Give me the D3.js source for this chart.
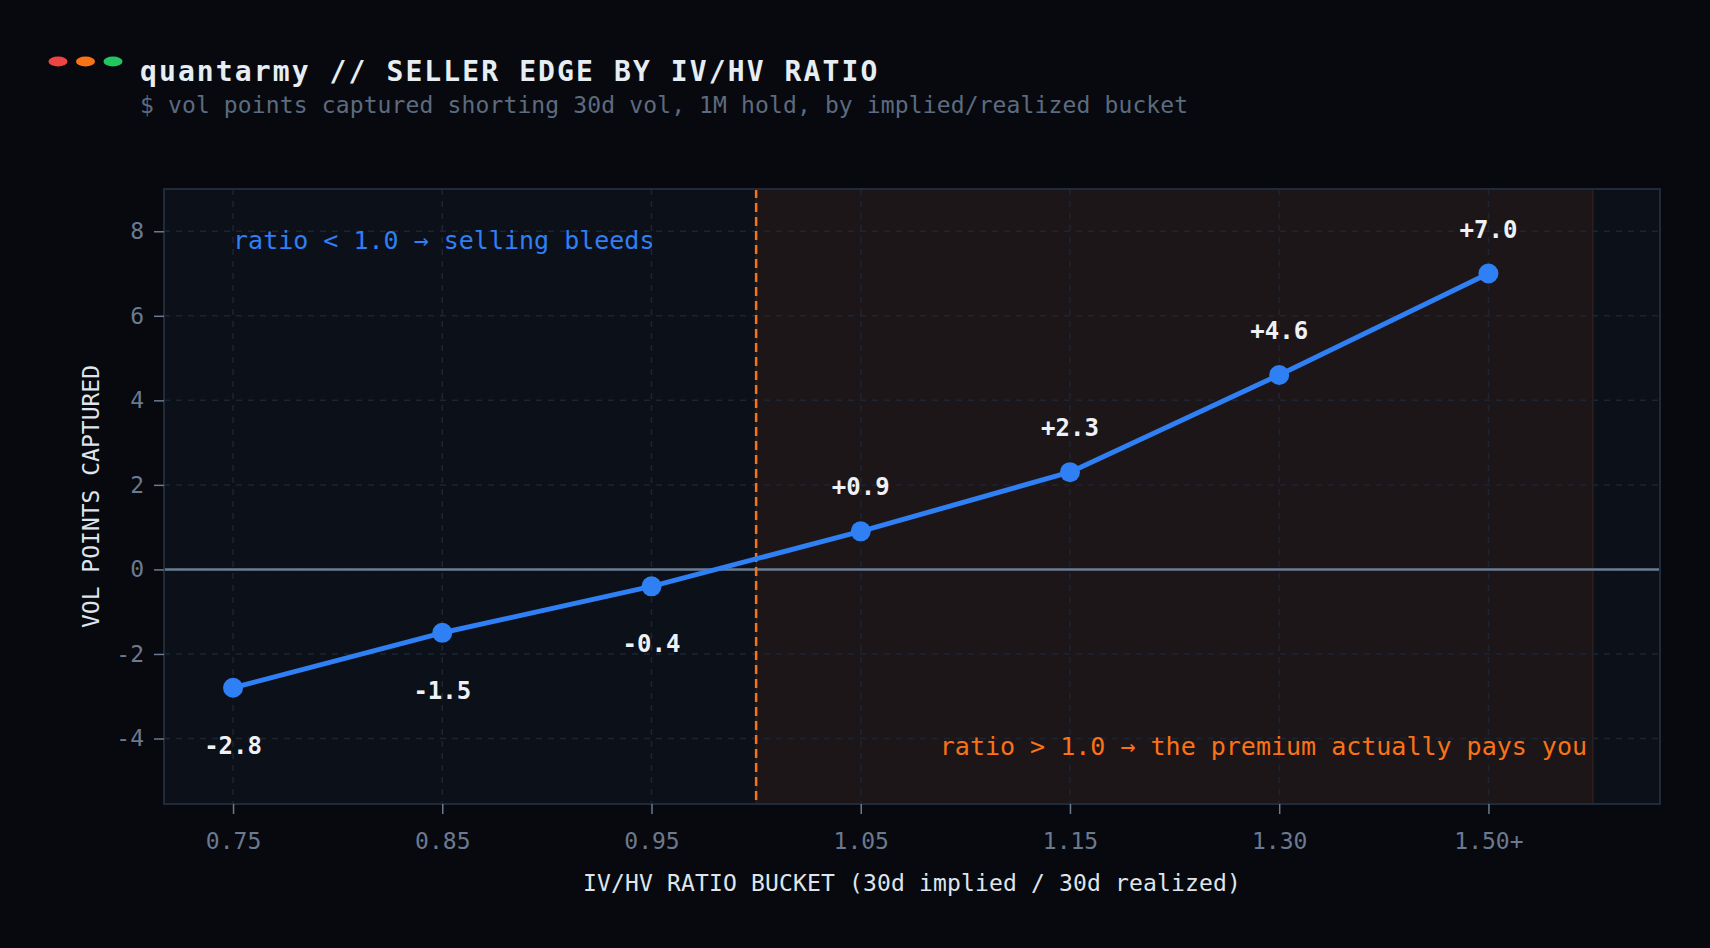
<!DOCTYPE html>
<html>
<head>
<meta charset="utf-8">
<script src="https://cdn.jsdelivr.net/npm/d3@7"></script>
<style>
  html, body { margin: 0; padding: 0; background: #07090e; }
  svg { display: block; }
  text { font-family: "DejaVu Sans Mono", "Liberation Mono", monospace; }
</style>
</head>
<body>
<div id="chart"></div>
<script>
// data
const buckets = ["0.75", "0.85", "0.95", "1.05", "1.15", "1.30", "1.50+"];
const edge = [-2.8, -1.5, -0.4, 0.9, 2.3, 4.6, 7.0];
const yTicks = [-4, -2, 0, 2, 4, 6, 8];
const breakEven = 2.5; // between 0.95 and 1.05 buckets

const width = 1710, height = 948;
const plot = { left: 164, right: 1660, top: 189, bottom: 804 };

const svg = d3.select("#chart").append("svg")
    .attr("width", width)
    .attr("height", height);

svg.append("rect").attr("width", width).attr("height", height).attr("fill", "#07090e");

// header: window dots + title
const dots = [["#ef4444", 58], ["#f97316", 85.5], ["#22c55e", 113]];
svg.selectAll("ellipse.dot")
  .data(dots)
  .join("ellipse")
    .attr("cx", d => d[1])
    .attr("cy", 61.5)
    .attr("rx", 9.5)
    .attr("ry", 5)
    .attr("fill", d => d[0]);

svg.append("text")
    .attr("x", 140).attr("y", 81)
    .attr("fill", "#e6edf3")
    .attr("font-size", 28)
    .attr("font-weight", "bold")
    .attr("letter-spacing", 2.1)
    .text("quantarmy // SELLER EDGE BY IV/HV RATIO");

svg.append("text")
    .attr("x", 140).attr("y", 113)
    .attr("fill", "#5d6b80")
    .attr("font-size", 23)
    .attr("letter-spacing", 0.13)
    .text("$ vol points captured shorting 30d vol, 1M hold, by implied/realized bucket");

// scales
const x = d3.scaleLinear().domain([-0.33, 6.82]).range([plot.left, plot.right]);
const y = d3.scaleLinear().domain([-5.55, 9.0]).range([plot.bottom, plot.top]);

// plot background
svg.append("rect")
    .attr("x", plot.left).attr("y", plot.top)
    .attr("width", plot.right - plot.left)
    .attr("height", plot.bottom - plot.top)
    .attr("fill", "#0c1019");

// shaded "premium pays" zone
svg.append("rect")
    .attr("x", x(breakEven)).attr("y", plot.top)
    .attr("width", x(6.5) - x(breakEven))
    .attr("height", plot.bottom - plot.top)
    .attr("fill", "#f97316")
    .attr("fill-opacity", 0.07)
    .attr("stroke", "#f97316")
    .attr("stroke-opacity", 0.12)
    .attr("stroke-width", 1.5);

// grid
const grid = svg.append("g");
grid.selectAll("line.gy")
  .data(yTicks)
  .join("line")
    .attr("x1", plot.left).attr("x2", plot.right)
    .attr("y1", d => y(d)).attr("y2", d => y(d))
    .attr("stroke", "#1d2533")
    .attr("stroke-width", 1.5)
    .attr("stroke-dasharray", "6,6");
grid.selectAll("line.gx")
  .data(d3.range(buckets.length))
  .join("line")
    .attr("x1", d => x(d)).attr("x2", d => x(d))
    .attr("y1", plot.top).attr("y2", plot.bottom)
    .attr("stroke", "#1d2533")
    .attr("stroke-width", 1.5)
    .attr("stroke-dasharray", "6,6");

// zero line
svg.append("line")
    .attr("x1", plot.left).attr("x2", plot.right)
    .attr("y1", y(0)).attr("y2", y(0))
    .attr("stroke", "#6b7d93")
    .attr("stroke-width", 2.5);

// break-even marker
svg.append("line")
    .attr("x1", x(breakEven)).attr("x2", x(breakEven))
    .attr("y1", plot.top).attr("y2", plot.bottom)
    .attr("stroke", "#f97316")
    .attr("stroke-width", 2.5)
    .attr("stroke-dasharray", "9,5");

// frame
svg.append("rect")
    .attr("x", plot.left).attr("y", plot.top)
    .attr("width", plot.right - plot.left)
    .attr("height", plot.bottom - plot.top)
    .attr("fill", "none")
    .attr("stroke", "#1f2a3a")
    .attr("stroke-width", 2);

// axes
const xAxis = svg.append("g")
    .attr("transform", `translate(0,${plot.bottom})`)
    .call(d3.axisBottom(x)
      .tickValues(d3.range(buckets.length))
      .tickFormat(i => buckets[i])
      .tickSize(10)
      .tickPadding(19));
const yAxis = svg.append("g")
    .attr("transform", `translate(${plot.left},0)`)
    .call(d3.axisLeft(y)
      .tickValues(yTicks)
      .tickFormat(d3.format("d"))
      .tickSize(10)
      .tickPadding(10));

[xAxis, yAxis].forEach(g => {
  g.select(".domain").remove();
  g.selectAll(".tick line").attr("stroke", "#6b7a90").attr("stroke-width", 1.5);
  g.selectAll(".tick text")
    .attr("fill", "#6b7a90")
    .attr("font-size", 23)
    .attr("font-family", "DejaVu Sans Mono, monospace");
});
yAxis.selectAll(".tick text").text(d => d < 0 ? "-" + Math.abs(d) : d);

// axis titles
svg.append("text")
    .attr("x", (plot.left + plot.right) / 2).attr("y", 891)
    .attr("text-anchor", "middle")
    .attr("fill", "#dfe5ec")
    .attr("font-size", 23)
    .attr("letter-spacing", 0.15)
    .text("IV/HV RATIO BUCKET (30d implied / 30d realized)");

svg.append("text")
    .attr("transform", `translate(99,${(plot.top + plot.bottom) / 2}) rotate(-90)`)
    .attr("text-anchor", "middle")
    .attr("fill", "#dfe5ec")
    .attr("font-size", 23)
    .text("VOL POINTS CAPTURED");

// annotations
svg.append("text")
    .attr("x", x(0)).attr("y", 249)
    .attr("fill", "#2f7ff5")
    .attr("font-size", 25)
    .text("ratio < 1.0 → selling bleeds");

svg.append("text")
    .attr("x", x(6.5) - 6).attr("y", 755)
    .attr("text-anchor", "end")
    .attr("fill", "#f97316")
    .attr("font-size", 25)
    .text("ratio > 1.0 → the premium actually pays you");

// series line + points
const line = d3.line()
    .x((d, i) => x(i))
    .y(d => y(d));

svg.append("path")
    .datum(edge)
    .attr("d", line)
    .attr("fill", "none")
    .attr("stroke", "#2f7ff5")
    .attr("stroke-width", 5)
    .attr("stroke-linejoin", "round");

svg.selectAll("circle.pt")
  .data(edge)
  .join("circle")
    .attr("cx", (d, i) => x(i))
    .attr("cy", d => y(d))
    .attr("r", 10)
    .attr("fill", "#2f7ff5");

svg.selectAll("text.val")
  .data(edge)
  .join("text")
    .attr("x", (d, i) => x(i))
    .attr("y", d => d >= 0 ? y(d) - 36 : y(d) + 66)
    .attr("text-anchor", "middle")
    .attr("fill", "#eef2f6")
    .attr("font-size", 24)
    .attr("font-weight", "bold")
    .text(d => (d > 0 ? "+" : "") + d.toFixed(1));
</script>
</body>
</html>
